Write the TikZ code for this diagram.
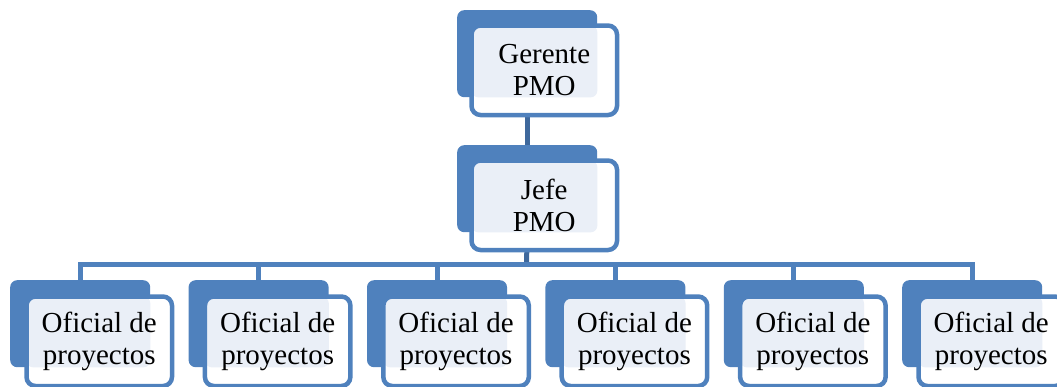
\documentclass[tikz,border=0pt]{standalone}
\usepackage{fontspec}
\setmainfont{Liberation Serif}
\usetikzlibrary{positioning}

\definecolor{orgblue}{RGB}{79,129,189}
\definecolor{orgdark}{RGB}{62,104,156}
\definecolor{orglight}{RGB}{234,239,247}

\pgfdeclarelayer{background}
\pgfsetlayers{background,main}

\begin{document}
\begin{tikzpicture}[x=1pt,y=-1pt,
    backbox/.style={rectangle,rounded corners=7pt,fill=orgblue,anchor=north west,inner sep=0pt,minimum width=140pt,minimum height=87pt},
    frontbox/.style={rectangle,rounded corners=9pt,draw=orgblue,line width=4.5pt,fill=white,anchor=north west,inner sep=0pt,minimum width=145.5pt,minimum height=89.5pt,align=center,font=\fontsize{29}{32}\selectfont},
    lightto/.style={path picture={\fill[orglight,rounded corners=7pt] (path picture bounding box.north west) rectangle (#1.south east);}},
    conn/.style={orgblue,line width=5pt},
    conndark/.style={orgdark,line width=5pt}]
	\useasboundingbox (0,0) rectangle (1057,386);

	% top of the chart
	\node[backbox] (ger-b) at (457,10) {};
	\node[frontbox,lightto=ger-b] (ger) at (469.25,23.25) {Gerente\\PMO};
	\node[backbox] (jefe-b) at (457,145) {};
	\node[frontbox,lightto=jefe-b] (jefe) at (469.25,158.25) {Jefe\\PMO};

	% project officers
	\foreach \i in {0,...,5} {
		\node[backbox] (of\i-b) at ({10+178.4*\i},280) {};
		\node[frontbox,lightto=of\i-b] (of\i) at ({24.25+178.4*\i},294.25) {Oficial de\\proyectos};
	}

	% connectors, behind the boxes
	\coordinate (bus) at (526.5,264.5);
	\begin{pgfonlayer}{background}
		\draw[conndark] (ger-b) -- (jefe-b);
		\draw[conndark] (jefe-b.south) -- (bus);
		\foreach \i in {0,...,5}
			\draw[conn] (bus) -| (of\i-b.north);
	\end{pgfonlayer}

\end{tikzpicture}
\end{document}
